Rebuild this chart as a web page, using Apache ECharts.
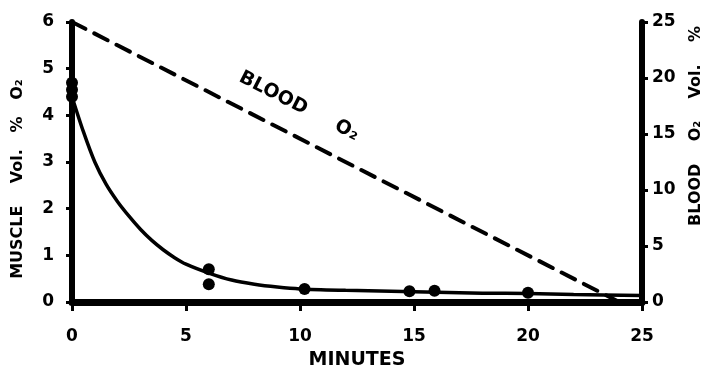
<!DOCTYPE html>
<html>
<head>
<meta charset="utf-8">
<script src="https://cdn.jsdelivr.net/npm/echarts@6/dist/echarts.min.js"></script>
<style>html,body{margin:0;padding:0;background:#fff}#c{width:711px;height:371px}</style>
</head>
<body>
<div id="c"></div>
<script>
// Measured muscle O2 (Vol. %) points
var pointMinutes = [0, 0, 0, 6, 6, 10.2, 14.8, 15.9, 20];
var pointMuscleO2 = [4.7, 4.55, 4.4, 0.7, 0.38, 0.28, 0.23, 0.24, 0.2];
// Fitted curve
var curveMinutes = [0, 0.5, 1, 1.5, 2, 2.5, 3, 3.5, 4, 4.5, 5, 6, 7, 8, 9, 10, 12, 14, 16, 18, 20, 22, 25];
var curveMuscleO2 = [4.4, 3.65, 3.0, 2.52, 2.15, 1.84, 1.56, 1.32, 1.12, 0.95, 0.81, 0.62, 0.47, 0.38, 0.32, 0.28, 0.25, 0.23, 0.21, 0.19, 0.18, 0.16, 0.14];
// Blood O2 (Vol. %) straight dashed line
var bloodMinutes = [0, 24];
var bloodO2 = [25, 0];
// Axis ranges
var xTicks = {min: 0, max: 25, interval: 5};
var leftTicks = {min: 0, max: 6, interval: 1};
var rightTicks = {min: 0, max: 25, interval: 5};

function zip(a, b) { return a.map(function (v, i) { return [v, b[i]]; }); }

var font = 'DejaVu Sans';
var axisLabelStyle = {color: '#000', fontFamily: font, fontWeight: 'bold', fontSize: 17};
var chart = echarts.init(document.getElementById('c'));
chart.setOption({
  animation: false,
  backgroundColor: '#fff',
  grid: {left: 72, right: 69, top: 22, bottom: 69, containLabel: false, outerBoundsMode: 'none'},
  xAxis: {
    type: 'value', min: xTicks.min, max: xTicks.max, interval: xTicks.interval,
    name: 'MINUTES', nameLocation: 'middle', nameGap: 49,
    nameTextStyle: {color: '#000', fontFamily: font, fontWeight: 'bold', fontSize: 19},
    axisLine: {onZero: false, lineStyle: {color: '#000', width: 7}},
    axisTick: {length: 9, lineStyle: {color: '#000', width: 3}},
    axisLabel: Object.assign({margin: 26}, axisLabelStyle),
    splitLine: {show: false}
  },
  yAxis: [{
    type: 'value', min: leftTicks.min, max: leftTicks.max, interval: leftTicks.interval,
    position: 'left',
    name: 'MUSCLE    Vol.   %   O\u2082', nameLocation: 'middle', nameGap: 46, nameRotate: 90,
    nameTextStyle: {color: '#000', fontFamily: font, fontWeight: 'bold', fontSize: 16, padding: [0, 34, 0, 0]},
    axisLine: {show: true, onZero: false, lineStyle: {color: '#000', width: 6}},
    axisTick: {show: true, length: 6, lineStyle: {color: '#000', width: 3}},
    axisLabel: Object.assign({margin: 18}, axisLabelStyle),
    splitLine: {show: false}
  }, {
    type: 'value', min: rightTicks.min, max: rightTicks.max, interval: rightTicks.interval,
    position: 'right',
    name: 'BLOOD    O\u2082    Vol.    %', nameLocation: 'middle', nameGap: 46, nameRotate: 90,
    nameTextStyle: {color: '#000', fontFamily: font, fontWeight: 'bold', fontSize: 16, padding: [0, 0, 0, 72]},
    axisLine: {show: true, onZero: false, lineStyle: {color: '#000', width: 6}},
    axisTick: {show: true, length: 6, lineStyle: {color: '#000', width: 3}},
    axisLabel: Object.assign({margin: 10}, axisLabelStyle),
    splitLine: {show: false}
  }],
  series: [{
    type: 'line', yAxisIndex: 1, data: zip(bloodMinutes, bloodO2),
    symbol: 'none', lineStyle: {color: '#000', width: 4, type: [15, 10], cap: 'round'}
  }, {
    type: 'line', yAxisIndex: 0, data: zip(curveMinutes, curveMuscleO2),
    smooth: 0.3, symbol: 'none', lineStyle: {color: '#000', width: 3.5}
  }, {
    type: 'scatter', yAxisIndex: 0, data: zip(pointMinutes, pointMuscleO2),
    symbol: 'circle', symbolSize: 12, itemStyle: {color: '#000', opacity: 1}
  }],
  graphic: [{
    type: 'text', left: 236, top: 68, rotation: -0.47,
    style: {text: 'BLOOD     O\u2082', fill: '#000', font: 'bold 19px "DejaVu Sans"'}
  }]
});
</script>
</body>
</html>
